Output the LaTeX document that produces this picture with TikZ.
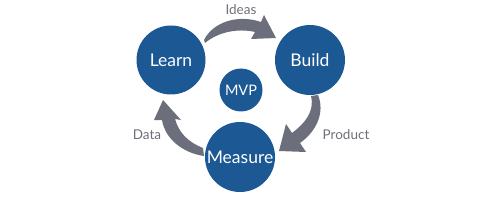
\documentclass[tikz,border=0pt]{standalone}
\usepackage{fontspec}
\setmainfont{Lato}
\definecolor{circblue}{HTML}{1B5894}
\definecolor{arrgray}{HTML}{6C6F7B}
\definecolor{labgray}{HTML}{6E7079}
\begin{document}
\begin{tikzpicture}[x=1pt,y=-1pt,
  stage/.style={circle,fill=circblue,text=white,inner sep=0pt,font=\fontsize{17.5}{20}\selectfont},
  lab/.style={text=labgray,font=\fontsize{13.5}{16}\selectfont},
  arr/.style={fill=arrgray}]
\useasboundingbox (0,0) rectangle (500,203);
\node[stage,minimum size=69pt] (learn) at (171,60) {Learn};
\node[stage,minimum size=70pt] (build) at (310,60) {Build};
\node[stage,minimum size=70pt] (measure) at (240,157) {Measure};
\node[stage,minimum size=43pt,font=\fontsize{14.5}{17}\selectfont] (mvp) at (241,90) {MVP};
\node[lab] (ideas) at (241,10) {Ideas};
\node[lab] (data) at (147,135) {Data};
\node[lab] (product) at (346,135) {Product};
% Learn -> Build
\fill[arr] (204,40) .. controls (213,22) and (238,14) .. (261,22) -- (264,15) -- (276,38) -- (251,39) -- (255,32) .. controls (238,28) and (218,32) .. (205,43) -- cycle;
% Build -> Measure
\fill[arr] (311,96) .. controls (315,112) and (304,124) .. (292,133) -- (286,124) -- (279,151) -- (306,152) -- (300,143) .. controls (317,131) and (325,112) .. (318,95) -- cycle;
% Measure -> Learn
\fill[arr] (203,148) .. controls (188,142) and (179,133) .. (175,119) -- (181,120) -- (163,100) -- (154,120) -- (162,120) .. controls (165,139) and (183,153) .. (204,156) -- cycle;
\end{tikzpicture}
\end{document}
